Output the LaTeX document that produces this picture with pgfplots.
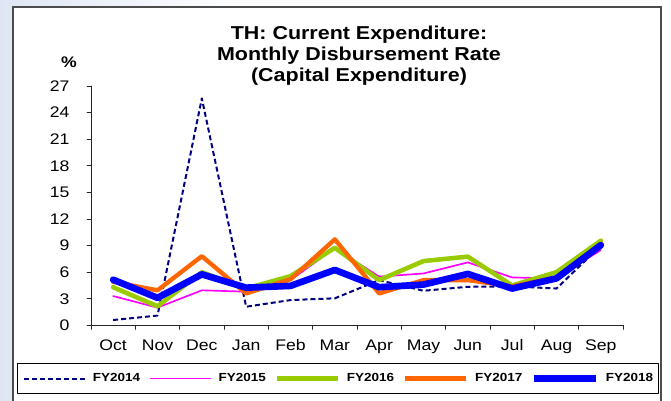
\documentclass[border=0pt]{standalone}
\usepackage{pgfplots}
\pgfplotsset{compat=1.18}
\usepackage{fontspec}
\setmainfont{Liberation Sans}[FakeStretch=1.15]
\definecolor{fy14}{HTML}{000080}
\definecolor{fy15}{HTML}{FF00FF}
\definecolor{fy16}{HTML}{99CC00}
\definecolor{fy17}{HTML}{FF6600}
\definecolor{fy18}{HTML}{0000FF}
\definecolor{bgblue}{RGB}{222,230,244}
\begin{document}
\begin{tikzpicture}
\useasboundingbox (0pt,0pt) rectangle (503.25pt,300pt);
\clip (0pt,0pt) rectangle (503.25pt,300pt);
\shade[left color=bgblue, right color=white] (0pt,0pt) rectangle (180pt,300pt);
\fill[white] (180pt,0pt) rectangle (503.25pt,300pt);
\draw[black!70, line width=1.1pt, fill=white] (9.75pt,-5pt) rectangle (495.75pt,294.75pt);
\begin{axis}[
  at={(68.25pt,56pt)}, anchor=south west,
  scale only axis, width=399pt, height=179.5pt,
  xmin=-0.5, xmax=11.5, ymin=0, ymax=27,
  axis x line*=bottom, axis y line*=left,
  axis line style={-, black!85, line width=0.6pt},
  xtick={-0.5,0.5,1.5,2.5,3.5,4.5,5.5,6.5,7.5,8.5,9.5,10.5,11.5},
  x tick label as interval,
  xticklabels={Oct,Nov,Dec,Jan,Feb,Mar,Apr,May,Jun,Jul,Aug,Sep},
  ytick={0,3,...,27},
  tick align=outside, major tick length=3pt,
  tick style={black!85, line width=0.6pt},
  /pgf/number format/assume math mode=true,
  ticklabel style={font=\fontsize{11.5}{13}\selectfont},
  yticklabel style={anchor=east, inner sep=0pt, xshift=-13pt},
  xticklabel style={anchor=base, inner sep=0pt, yshift=-16pt},
  legend columns=5,
  legend style={at={(0.4643,-0.2223)}, anchor=center, draw=black, line width=0.75pt, fill=white,
    inner xsep=4pt, inner ysep=7.5pt,
    font=\bfseries\fontsize{8.8}{10}\selectfont,
    nodes={inner sep=0pt},
    /tikz/every odd column/.append style={column sep=5pt},
    /tikz/every even column/.append style={column sep=6.5pt}},
  legend image code/.code={\draw[#1] (0pt,0pt) -- (46pt,0pt);},
  line join=round, line cap=round,
]
\addplot[fy14, line width=1.5pt, dash pattern=on 3.75pt off 2.25pt, line cap=butt] coordinates {
 (0,0.6) (1,1.1) (2,25.6) (3,2.1) (4,2.85) (5,3.05) (6,5.1) (7,3.9) (8,4.35) (9,4.4) (10,4.15) (11,9.0)};
\addlegendentry{FY2014}
\addplot[fy15, line width=1.25pt] coordinates {
 (0,3.3) (1,2.0) (2,3.95) (3,3.8) (4,5.1) (5,8.7) (6,5.5) (7,5.85) (8,7.1) (9,5.4) (10,5.3) (11,8.5)};
\addlegendentry{FY2015}
\addplot[fy16, line width=3.4pt] coordinates {
 (0,4.3) (1,2.15) (2,6.0) (3,4.15) (4,5.55) (5,8.75) (6,5.1) (7,7.25) (8,7.75) (9,4.5) (10,6.0) (11,9.55)};
\addlegendentry{FY2016}
\addplot[fy17, line width=3.25pt] coordinates {
 (0,4.9) (1,3.95) (2,7.8) (3,3.6) (4,5.2) (5,9.7) (6,3.6) (7,5.1) (8,5.1) (9,4.4) (10,5.4) (11,9.2)};
\addlegendentry{FY2017}
\addplot[fy18, line width=5pt] coordinates {
 (0,5.15) (1,3.1) (2,5.75) (3,4.25) (4,4.45) (5,6.25) (6,4.3) (7,4.6) (8,5.8) (9,4.15) (10,5.3) (11,9.05)};
\addlegendentry{FY2018}
\end{axis}
\node[anchor=base, font=\bfseries\fontsize{14}{16}\selectfont, inner sep=0pt] at (269.25pt,270.5pt) {TH: Current Expenditure:};
\node[anchor=base, font=\bfseries\fontsize{14}{16}\selectfont, inner sep=0pt] at (269.25pt,254.25pt) {Monthly Disbursement Rate};
\node[anchor=base, font=\bfseries\fontsize{14}{16}\selectfont, inner sep=0pt] at (269.25pt,238.7pt) {(Capital Expenditure)};
\node[anchor=base, font=\bfseries\fontsize{11.5}{13}\selectfont, inner sep=0pt] at (51.75pt,249pt) {\%};
\end{tikzpicture}
\end{document}
